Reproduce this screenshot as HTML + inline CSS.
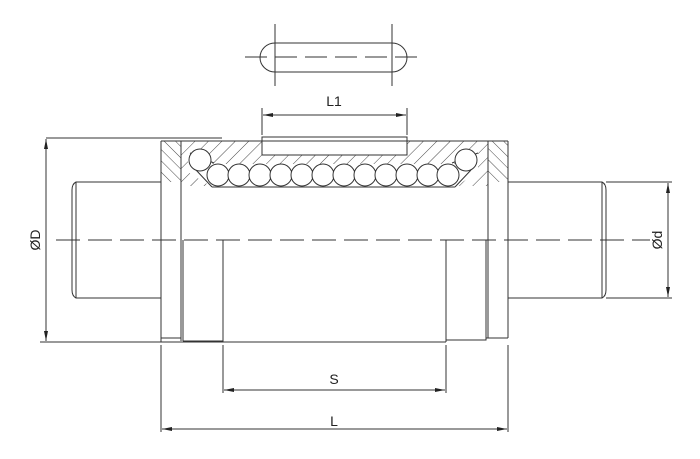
<!DOCTYPE html>
<html><head><meta charset="utf-8"><style>html,body{margin:0;padding:0;background:#fff}svg{display:block}</style></head>
<body>
<svg width="700" height="459" viewBox="0 0 700 459" xmlns="http://www.w3.org/2000/svg">
<defs>
<pattern id="h1" patternUnits="userSpaceOnUse" width="9.5" height="9.5" patternTransform="rotate(45)"><line x1="0" y1="0" x2="0" y2="9.5" stroke="#333" stroke-width="0.9"/></pattern>
<pattern id="h2" patternUnits="userSpaceOnUse" width="8" height="8" patternTransform="rotate(-45)"><line x1="0" y1="0" x2="0" y2="8" stroke="#333" stroke-width="0.9"/></pattern>
<marker id="a" viewBox="0 0 10 6" refX="10" refY="3" markerWidth="10" markerHeight="6" orient="auto-start-reverse" markerUnits="userSpaceOnUse"><path d="M0,1 L10,3 L0,5 Z" fill="#222"/></marker>
</defs>
<g stroke="#333" stroke-width="1" fill="none">
<path d="M275,43 L392,43 A15,14.5 0 0 1 392,72 L275,72 A15,14.5 0 0 1 275,43 Z"/>
<line x1="275" y1="24" x2="275" y2="86"/><line x1="392" y1="24" x2="392" y2="86"/>
<line x1="245" y1="57" x2="423" y2="57" stroke-dasharray="22,8"/>
<rect x="181" y="141" width="307" height="45" fill="url(#h1)" stroke="none"/>
<rect x="161" y="141" width="20" height="41" fill="url(#h2)" stroke="none"/>
<rect x="488" y="141" width="20" height="41" fill="url(#h2)" stroke="none"/>
<path d="M188,150 L212,164 L455,164 L478,150 L478,172 L455,187 L212,187 L188,172 Z" fill="#fff" stroke="none"/>
<rect x="262" y="137" width="145" height="18" fill="#fff"/>
<path d="M190,153 L214,163 M478,153 L452,163 M212,187 L455,187 M196,170 L212,187 M471,170 L455,187" />
<circle cx="200" cy="160" r="11" fill="#fff"/>
<circle cx="466" cy="160" r="11" fill="#fff"/>
<g fill="#fff">
<circle cx="218" cy="175" r="11"/><circle cx="239" cy="175" r="11"/><circle cx="260" cy="175" r="11"/><circle cx="281" cy="175" r="11"/><circle cx="302" cy="175" r="11"/><circle cx="323" cy="175" r="11"/><circle cx="344" cy="175" r="11"/><circle cx="365" cy="175" r="11"/><circle cx="386" cy="175" r="11"/><circle cx="407" cy="175" r="11"/><circle cx="428" cy="175" r="11"/><circle cx="448" cy="175" r="11"/>
</g>
<line x1="46" y1="138" x2="222" y2="138"/>
<line x1="161" y1="141" x2="508" y2="141"/>
<line x1="161" y1="141" x2="161" y2="342"/>
<line x1="181" y1="141" x2="181" y2="341"/>
<line x1="183" y1="240" x2="183" y2="341"/>
<line x1="223" y1="240" x2="223" y2="342"/>
<line x1="488" y1="141" x2="488" y2="338"/>
<line x1="486" y1="240" x2="486" y2="340"/>
<line x1="508" y1="141" x2="508" y2="338"/>
<line x1="446" y1="240" x2="446" y2="342"/>
<line x1="40" y1="342" x2="223" y2="342"/>
<line x1="161" y1="338" x2="181" y2="338"/>
<line x1="183" y1="341" x2="223" y2="341"/>
<line x1="223" y1="342" x2="446" y2="342"/>
<path d="M446,342 L446,340 L486,340 L486,338 L508,338"/>
<path d="M161,182 L76,182 Q72,184 72,190 L72,290 Q72,296 76,298 L161,298"/>
<line x1="76" y1="182" x2="76" y2="298"/>
<path d="M508,182 L602,182 Q606,184 606,190 L606,290 Q606,296 602,298 L508,298"/>
<line x1="602" y1="182" x2="602" y2="298"/>
<line x1="56" y1="240" x2="650" y2="240" stroke-dasharray="24,8"/>
<line x1="46" y1="139" x2="46" y2="341" marker-start="url(#a)" marker-end="url(#a)"/>
<line x1="606" y1="182" x2="672" y2="182"/><line x1="606" y1="298" x2="672" y2="298"/>
<line x1="668" y1="183" x2="668" y2="297" marker-start="url(#a)" marker-end="url(#a)"/>
<line x1="262" y1="108" x2="262" y2="135"/><line x1="407" y1="108" x2="407" y2="135"/>
<line x1="263" y1="115" x2="406" y2="115" marker-start="url(#a)" marker-end="url(#a)"/>
<line x1="223" y1="345" x2="223" y2="393"/><line x1="446" y1="345" x2="446" y2="393"/>
<line x1="224" y1="390" x2="445" y2="390" marker-start="url(#a)" marker-end="url(#a)"/>
<line x1="161" y1="345" x2="161" y2="432"/><line x1="508" y1="345" x2="508" y2="432"/>
<line x1="162" y1="429" x2="507" y2="429" marker-start="url(#a)" marker-end="url(#a)"/>
</g>
<g font-family="Liberation Sans, sans-serif" font-size="14" fill="#222" text-anchor="middle">
<text x="334" y="106">L1</text>
<text x="334" y="384">S</text>
<text x="334" y="426">L</text>
<text transform="translate(40,240) rotate(-90)">ØD</text>
<text transform="translate(662,240) rotate(-90)">Ød</text>
</g>
</svg>
</body></html>
